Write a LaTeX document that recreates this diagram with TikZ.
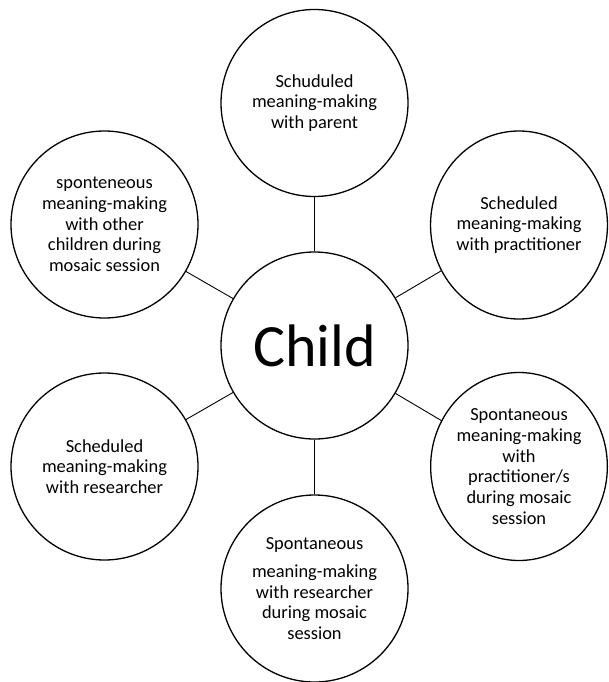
\documentclass[tikz,border=0pt]{standalone}
\usepackage{fontspec}
\setmainfont{Carlito}
\usetikzlibrary{shapes.geometric}
\begin{document}
\begin{tikzpicture}[x=1pt,y=-1pt,
  bubble/.style={circle,draw=black,line width=1.3pt,minimum size=187pt,inner sep=0pt,
    align=center,font=\fontsize{18.4}{20.7}\selectfont},
  oval/.style={ellipse,draw=black,line width=1.3pt,minimum width=176pt,minimum height=188pt,
    inner sep=0pt,align=center,font=\fontsize{18.4}{20.7}\selectfont},
  link/.style={draw=black,line width=0.9pt}]
  \useasboundingbox (0,0) rectangle (608,682);
  % hub
  \node[bubble,font=\fontsize{60}{66}\selectfont] (child) at (314.5,345.5) {Child};
  % surrounding bubbles
  \node[bubble] (parent) at (314.5,103) {Schuduled\\meaning-making\\with parent};
  \node[oval] (practS) at (519,225) {Scheduled\\meaning-making\\with practitioner};
  \node[oval] (practP) at (519,466.5) {Spontaneous\\meaning-making\\with\\practitioner/s\\during mosaic\\session};
  \node[bubble] (resP) at (314.5,588.5) {Spontaneous\\[7.5pt]meaning-making\\with researcher\\during mosaic\\session};
  \node[bubble] (resS) at (104.5,466.5) {Scheduled\\meaning-making\\with researcher};
  \node[bubble] (peers) at (104.5,224.5) {sponteneous\\meaning-making\\with other\\children during\\mosaic session};
  % spokes
  \foreach \n in {parent,practS,practP,resP,resS,peers}
    \path[link] (child) -- (\n);
\end{tikzpicture}
\end{document}
